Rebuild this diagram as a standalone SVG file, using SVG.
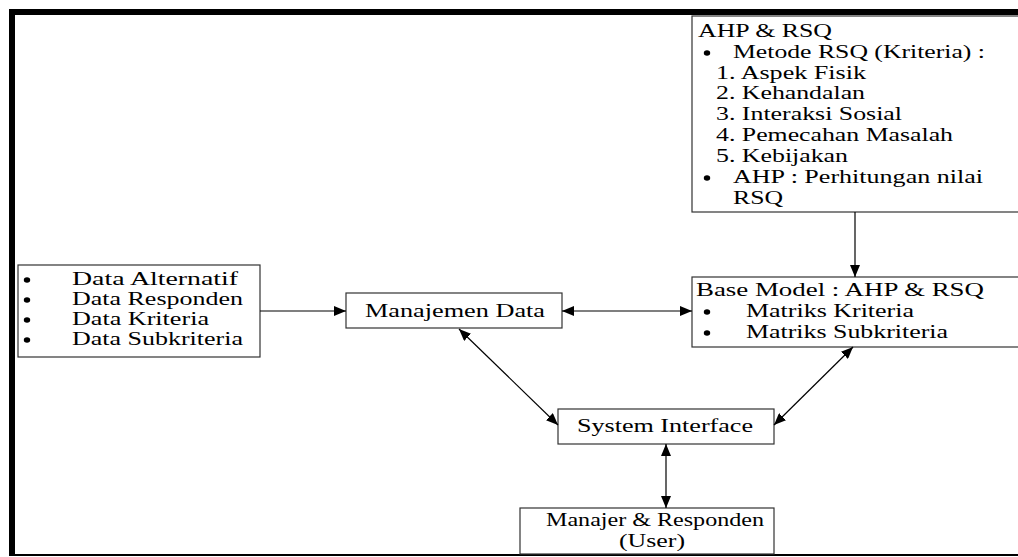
<svg xmlns="http://www.w3.org/2000/svg" width="1018" height="557" viewBox="0 0 1018 557">
<style>
.box{fill:#fff;stroke:#333;stroke-width:1.2}
.t{font-family:"Liberation Serif","Times New Roman",serif;font-size:18px;fill:#000}
.c{text-anchor:middle}
.ln{stroke:#000;stroke-width:1.2;fill:none}
.bul{fill:#000}
</style>
<defs>
<marker id="ah" viewBox="0 0 12 10" refX="12" refY="5" markerWidth="12" markerHeight="10" markerUnits="userSpaceOnUse" orient="auto-start-reverse">
<path d="M0,0 L12,5 L0,10 z" fill="#000"/>
</marker>
</defs>
<rect x="0" y="0" width="1018" height="557" fill="#fff"/>
<g id="frame">
<rect x="9" y="9" width="1009" height="6" fill="#000"/>
<rect x="9" y="9" width="6" height="547" fill="#000"/>
<line x1="9" y1="555" x2="1018" y2="555" stroke="#000" stroke-width="2"/>
</g>
<g id="ahp-rsq">
<rect class="box" x="692" y="16" width="340" height="196"/>
<text class="t" x="698" y="37" textLength="134" lengthAdjust="spacingAndGlyphs">AHP &amp; RSQ</text>
<ellipse class="bul" cx="707" cy="53" rx="3.2" ry="2.8"/>
<text class="t" x="733" y="58" textLength="252" lengthAdjust="spacingAndGlyphs">Metode RSQ (Kriteria) :</text>
<text class="t" x="716" y="79" textLength="150" lengthAdjust="spacingAndGlyphs">1. Aspek Fisik</text>
<text class="t" x="716" y="99" textLength="149" lengthAdjust="spacingAndGlyphs">2. Kehandalan</text>
<text class="t" x="716" y="120" textLength="186" lengthAdjust="spacingAndGlyphs">3. Interaksi Sosial</text>
<text class="t" x="716" y="141" textLength="237" lengthAdjust="spacingAndGlyphs">4. Pemecahan Masalah</text>
<text class="t" x="716" y="162" textLength="132" lengthAdjust="spacingAndGlyphs">5. Kebijakan</text>
<ellipse class="bul" cx="707" cy="178" rx="3.2" ry="2.8"/>
<text class="t" x="733" y="183" textLength="250" lengthAdjust="spacingAndGlyphs">AHP : Perhitungan nilai</text>
<text class="t" x="733" y="204" textLength="50" lengthAdjust="spacingAndGlyphs">RSQ</text>
</g>
<g id="data-list">
<rect class="box" x="18" y="265" width="242" height="92"/>
<ellipse class="bul" cx="27" cy="280" rx="3.2" ry="2.8"/>
<text class="t" x="72" y="285" textLength="166" lengthAdjust="spacingAndGlyphs">Data Alternatif</text>
<ellipse class="bul" cx="27" cy="300" rx="3.2" ry="2.8"/>
<text class="t" x="72" y="305" textLength="171" lengthAdjust="spacingAndGlyphs">Data Responden</text>
<ellipse class="bul" cx="27" cy="320" rx="3.2" ry="2.8"/>
<text class="t" x="72" y="325" textLength="137" lengthAdjust="spacingAndGlyphs">Data Kriteria</text>
<ellipse class="bul" cx="27" cy="340" rx="3.2" ry="2.8"/>
<text class="t" x="72" y="345" textLength="171" lengthAdjust="spacingAndGlyphs">Data Subkriteria</text>
</g>
<g id="manajemen-data">
<rect class="box" x="346" y="293" width="216" height="35"/>
<text class="t c" x="455" y="317" textLength="180" lengthAdjust="spacingAndGlyphs">Manajemen Data</text>
</g>
<g id="base-model">
<rect class="box" x="692" y="277" width="340" height="70"/>
<text class="t" x="696" y="296" textLength="288" lengthAdjust="spacingAndGlyphs">Base Model : AHP &amp; RSQ</text>
<ellipse class="bul" cx="707" cy="312" rx="3.2" ry="2.8"/>
<text class="t" x="746" y="317" textLength="168" lengthAdjust="spacingAndGlyphs">Matriks Kriteria</text>
<ellipse class="bul" cx="707" cy="333" rx="3.2" ry="2.8"/>
<text class="t" x="746" y="338" textLength="202" lengthAdjust="spacingAndGlyphs">Matriks Subkriteria</text>
</g>
<g id="system-interface">
<rect class="box" x="558" y="409" width="216" height="35"/>
<text class="t c" x="665" y="432" textLength="176" lengthAdjust="spacingAndGlyphs">System Interface</text>
</g>
<g id="manajer-responden">
<rect class="box" x="520" y="508" width="254" height="46"/>
<text class="t c" x="655" y="526" textLength="218" lengthAdjust="spacingAndGlyphs">Manajer &amp; Responden</text>
<text class="t c" x="652" y="547" textLength="66" lengthAdjust="spacingAndGlyphs">(User)</text>
</g>
<g id="connectors">
<line class="ln" x1="260" y1="311" x2="346" y2="311" marker-end="url(#ah)"/>
<line class="ln" x1="562" y1="311" x2="692" y2="311" marker-start="url(#ah)" marker-end="url(#ah)"/>
<line class="ln" x1="855" y1="212" x2="855" y2="277" marker-end="url(#ah)"/>
<line class="ln" x1="459" y1="329" x2="558" y2="425" marker-start="url(#ah)" marker-end="url(#ah)"/>
<line class="ln" x1="853" y1="347" x2="774" y2="425" marker-start="url(#ah)" marker-end="url(#ah)"/>
<line class="ln" x1="666" y1="444" x2="666" y2="508" marker-start="url(#ah)" marker-end="url(#ah)"/>
</g>
</svg>
